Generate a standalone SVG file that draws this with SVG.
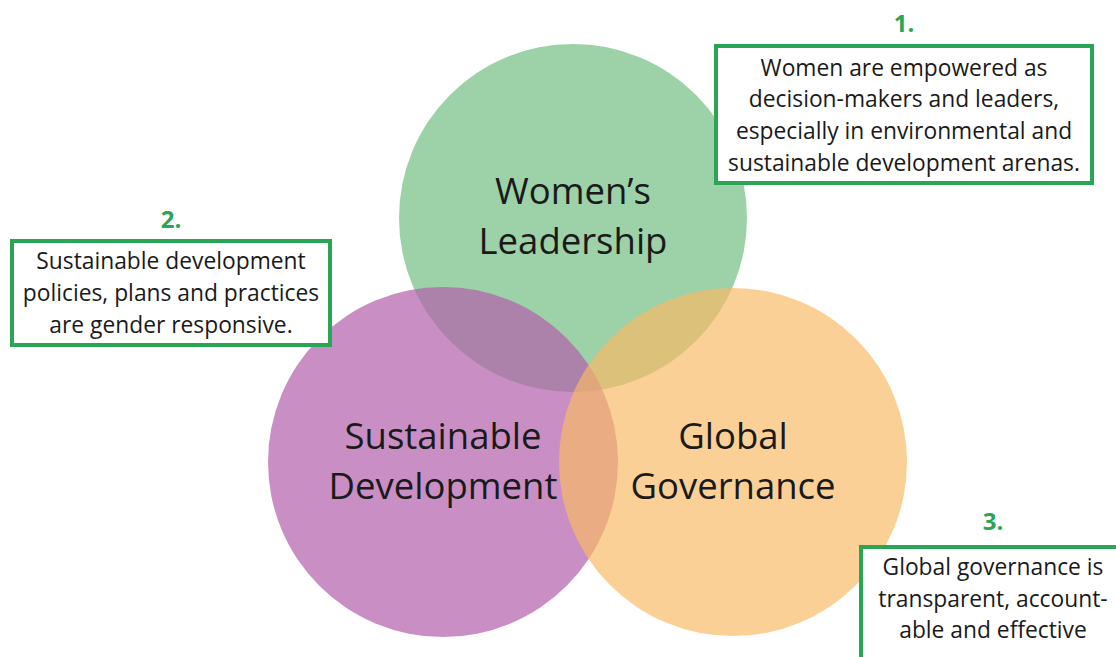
<svg xmlns="http://www.w3.org/2000/svg" width="1116" height="657" viewBox="0 0 1116 657">
<style>
.big{font-family:"Open Sans","Noto Sans",sans-serif;font-size:36.5px;fill:#1a1a1a;text-anchor:middle}
.txt{font-family:"Open Sans","Noto Sans",sans-serif;font-size:22.8px;fill:#1a1a1a;text-anchor:middle}
.num{font-family:"Open Sans","Noto Sans",sans-serif;font-size:24px;font-weight:bold;fill:#2aa556;text-anchor:middle}
.box{fill:#fff;stroke:#2aa556;stroke-width:4}
</style>
<rect width="1116" height="657" fill="#fff"/>
<g id="circle-leadership">
<circle cx="573" cy="218" r="174" fill="rgb(115,189,131)" fill-opacity="0.7"/>
</g>
<g id="circle-sustainable">
<circle cx="443" cy="462" r="175" fill="rgb(178,96,171)" fill-opacity="0.7"/>
</g>
<g id="circle-governance">
<circle cx="733" cy="462" r="174" fill="rgb(249,186,100)" fill-opacity="0.68"/>
</g>
<g id="labels">
<text class="big" x="573" y="204">Women’s</text>
<text class="big" x="573" y="254">Leadership</text>
<text class="big" x="443" y="449">Sustainable</text>
<text class="big" x="443" y="499">Development</text>
<text class="big" x="733" y="449">Global</text>
<text class="big" x="733" y="499">Governance</text>
</g>
<g id="box1">
<text class="num" x="904" y="32">1.</text>
<rect class="box" x="716" y="46" width="376" height="137"/>
<text class="txt" x="904" y="76">Women are empowered as</text>
<text class="txt" x="904" y="107">decision-makers and leaders,</text>
<text class="txt" x="904" y="139">especially in environmental and</text>
<text class="txt" x="904" y="171">sustainable development arenas.</text>
</g>
<g id="box2">
<text class="num" x="171" y="228">2.</text>
<rect class="box" x="12" y="241" width="318" height="104"/>
<text class="txt" x="171" y="269">Sustainable development</text>
<text class="txt" x="171" y="301">policies, plans and practices</text>
<text class="txt" x="171" y="333">are gender responsive.</text>
</g>
<g id="box3">
<text class="num" x="993" y="530">3.</text>
<rect class="box" x="861" y="547" width="270" height="130"/>
<text class="txt" x="993" y="575">Global governance is</text>
<text class="txt" x="993" y="607">transparent, account-</text>
<text class="txt" x="993" y="638">able and effective</text>
</g>
</svg>
